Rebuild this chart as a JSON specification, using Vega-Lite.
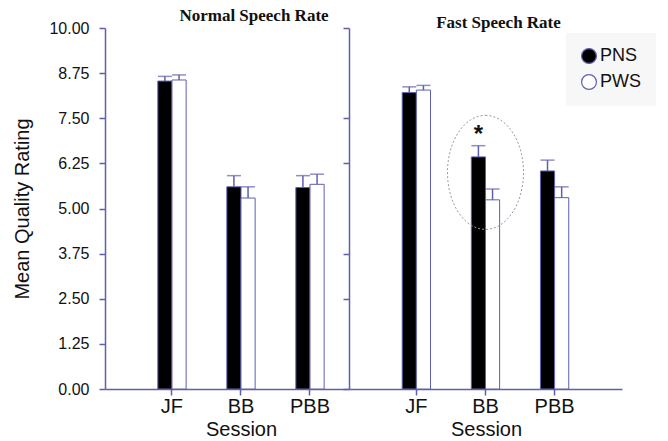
{
  "$schema": "https://vega.github.io/schema/vega-lite/v6.json",
  "padding": {"left": 12, "top": 7, "right": 5, "bottom": 0},
  "datasets": {
    "bars": [
      {"rate": "Normal", "session": "JF", "group": "PNS", "mean": 8.53, "upper": 8.66},
      {"rate": "Normal", "session": "JF", "group": "PWS", "mean": 8.56, "upper": 8.70},
      {"rate": "Normal", "session": "BB", "group": "PNS", "mean": 5.60, "upper": 5.91},
      {"rate": "Normal", "session": "BB", "group": "PWS", "mean": 5.29, "upper": 5.60},
      {"rate": "Normal", "session": "PBB", "group": "PNS", "mean": 5.58, "upper": 5.91},
      {"rate": "Normal", "session": "PBB", "group": "PWS", "mean": 5.67, "upper": 5.95},
      {"rate": "Fast", "session": "JF", "group": "PNS", "mean": 8.21, "upper": 8.37},
      {"rate": "Fast", "session": "JF", "group": "PWS", "mean": 8.28, "upper": 8.41},
      {"rate": "Fast", "session": "BB", "group": "PNS", "mean": 6.43, "upper": 6.74},
      {"rate": "Fast", "session": "BB", "group": "PWS", "mean": 5.24, "upper": 5.54},
      {"rate": "Fast", "session": "PBB", "group": "PNS", "mean": 6.04, "upper": 6.34},
      {"rate": "Fast", "session": "PBB", "group": "PWS", "mean": 5.30, "upper": 5.60}
    ],
    "note": [
      {"session": "BB", "group": "PNS", "value": 6.0, "mark": "*", "markValue": 7.2}
    ]
  },
  "config": {
    "view": {"stroke": null},
    "font": "Liberation Sans",
    "axis": {
      "domainColor": "#5f5fb0",
      "tickColor": "#5f5fb0",
      "domainWidth": 1.5,
      "tickWidth": 1.5,
      "labelColor": "#111111",
      "titleColor": "#111111",
      "labelFont": "Liberation Sans",
      "titleFont": "Liberation Sans",
      "titleFontWeight": "normal",
      "grid": false,
      "tickSize": 6
    },
    "legend": {
      "title": null, "orient": "none", "legendX": 461, "legendY": 5,
      "symbolType": "circle", "symbolSize": 220, "symbolStrokeColor": "#5f5fb0", "symbolStrokeWidth": 1.2,
      "labelFontSize": 18, "labelColor": "#111111", "labelOffset": 2, "rowPadding": 6,
      "fillColor": "#f7f7f7", "padding": 14
    },
    "title": {"font": "Liberation Serif", "fontWeight": "bold", "fontSize": 17, "color": "#111111"}
  },
  "spacing": -7,
  "hconcat": [
    {
      "width": 244,
      "height": 361,
      "title": {"text": "Normal Speech Rate", "anchor": "middle", "dx": 27, "offset": -5},
      "layer": [
        {
          "data": {"name": "bars"},
          "transform": [{"filter": "datum.rate === 'Normal'"}],
          "mark": {"type": "bar", "stroke": "#5f5fb0", "strokeWidth": 1},
          "encoding": {
            "x": {
              "field": "session", "type": "nominal", "sort": ["JF", "BB", "PBB"],
              "scale": {"paddingInner": 0.59, "paddingOuter": 0.563, "align": 0.68},
              "axis": {"title": "Session", "labelAngle": 0, "labelFontSize": 20, "titleFontSize": 20, "labelPadding": 1, "titlePadding": 3, "titleX": 136}
            },
            "xOffset": {"field": "group", "type": "nominal", "sort": ["PNS", "PWS"]},
            "y": {
              "field": "mean", "type": "quantitative",
              "scale": {"domain": [0, 10], "nice": false},
              "axis": {"title": "Mean Quality Rating", "values": [0, 1.25, 2.5, 3.75, 5, 6.25, 7.5, 8.75, 10], "format": ".2f", "labelFontSize": 16, "titleFontSize": 20, "labelPadding": 10, "titlePadding": 16}
            },
            "fill": {
              "field": "group", "type": "nominal",
              "scale": {"domain": ["PNS", "PWS"], "range": ["#000000", "#ffffff"]}
            }
          }
        },
        {
          "data": {"name": "bars"},
          "transform": [{"filter": "datum.rate === 'Normal'"}],
          "mark": {"type": "rule", "color": "#5f5fb0", "strokeWidth": 1.5},
          "encoding": {
            "x": {"field": "session", "type": "nominal", "sort": ["JF", "BB", "PBB"]},
            "xOffset": {"field": "group", "type": "nominal", "sort": ["PNS", "PWS"]},
            "y": {"field": "mean", "type": "quantitative"},
            "y2": {"field": "upper"}
          }
        },
        {
          "data": {"name": "bars"},
          "transform": [{"filter": "datum.rate === 'Normal'"}],
          "mark": {"type": "tick", "color": "#5f5fb0", "thickness": 1.5, "size": 14},
          "encoding": {
            "x": {"field": "session", "type": "nominal", "sort": ["JF", "BB", "PBB"]},
            "xOffset": {"field": "group", "type": "nominal", "sort": ["PNS", "PWS"]},
            "y": {"field": "upper", "type": "quantitative"}
          }
        }
      ]
    },
    {
      "width": 273,
      "height": 361,
      "title": {"text": "Fast Speech Rate", "anchor": "middle", "dx": 13, "offset": -5},
      "layer": [
        {
          "data": {"name": "bars"},
          "transform": [{"filter": "datum.rate === 'Fast'"}],
          "mark": {"type": "bar", "stroke": "#5f5fb0", "strokeWidth": 1},
          "encoding": {
            "x": {
              "field": "session", "type": "nominal", "sort": ["JF", "BB", "PBB"],
              "scale": {"paddingInner": 0.59, "paddingOuter": 0.77, "align": 0.5},
              "axis": {"title": "Session", "labelAngle": 0, "labelFontSize": 20, "titleFontSize": 20, "labelPadding": 1, "titlePadding": 3, "titleX": 137}
            },
            "xOffset": {"field": "group", "type": "nominal", "sort": ["PNS", "PWS"]},
            "y": {
              "field": "mean", "type": "quantitative",
              "scale": {"domain": [0, 10], "nice": false},
              "axis": {"title": null, "labels": false, "values": [0, 2.5, 3.75, 6.25, 7.5, 10]}
            },
            "fill": {
              "field": "group", "type": "nominal",
              "scale": {"domain": ["PNS", "PWS"], "range": ["#000000", "#ffffff"]}
            }
          }
        },
        {
          "data": {"name": "bars"},
          "transform": [{"filter": "datum.rate === 'Fast'"}],
          "mark": {"type": "rule", "color": "#5f5fb0", "strokeWidth": 1.5},
          "encoding": {
            "x": {"field": "session", "type": "nominal", "sort": ["JF", "BB", "PBB"]},
            "xOffset": {"field": "group", "type": "nominal", "sort": ["PNS", "PWS"]},
            "y": {"field": "mean", "type": "quantitative"},
            "y2": {"field": "upper"}
          }
        },
        {
          "data": {"name": "bars"},
          "transform": [{"filter": "datum.rate === 'Fast'"}],
          "mark": {"type": "tick", "color": "#5f5fb0", "thickness": 1.5, "size": 14},
          "encoding": {
            "x": {"field": "session", "type": "nominal", "sort": ["JF", "BB", "PBB"]},
            "xOffset": {"field": "group", "type": "nominal", "sort": ["PNS", "PWS"]},
            "y": {"field": "upper", "type": "quantitative"}
          }
        },
        {
          "data": {"name": "note"},
          "mark": {
            "type": "point", "filled": false, "stroke": "#999999", "strokeWidth": 1, "strokeDash": [2, 2], "opacity": 1,
            "shape": "M0,-1.5 A1,1.5 0 1,1 0,1.5 A1,1.5 0 1,1 0,-1.5 Z", "size": 5776
          },
          "encoding": {
            "x": {"field": "session", "type": "nominal", "sort": ["JF", "BB", "PBB"]},
            "y": {"field": "value", "type": "quantitative"}
          }
        },
        {
          "data": {"name": "note"},
          "mark": {"type": "text", "fontSize": 24, "fontWeight": "bold", "baseline": "middle", "dy": 6, "color": "#111111"},
          "encoding": {
            "x": {"field": "session", "type": "nominal", "sort": ["JF", "BB", "PBB"]},
            "xOffset": {"field": "group", "type": "nominal", "sort": ["PNS", "PWS"]},
            "y": {"field": "markValue", "type": "quantitative"},
            "text": {"field": "mark"}
          }
        }
      ]
    }
  ]
}
